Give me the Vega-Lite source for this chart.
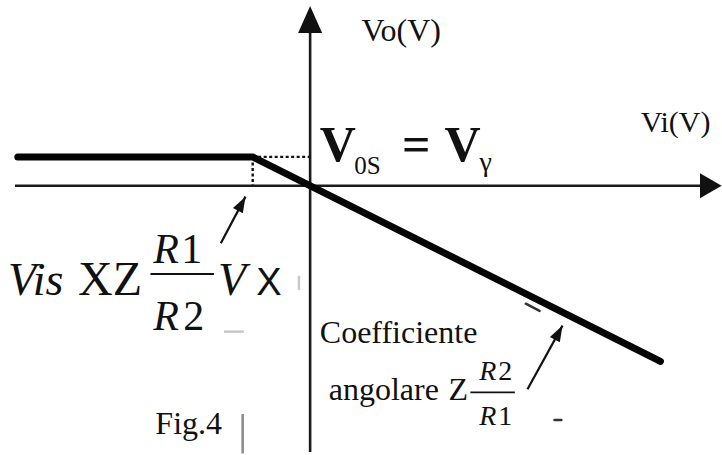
{
  "$schema": "https://vega.github.io/schema/vega-lite/v6.json",
  "width": 722,
  "height": 455,
  "padding": 0,
  "autosize": {"type": "fit", "contains": "padding"},
  "background": "white",
  "config": {"view": {"stroke": null}, "text": {"font": "Liberation Serif", "color": "#111"}},
  "datasets": {
    "axes": [
      {"x1": -10.28, "x2": 14.0, "y1": 0, "y2": 0},
      {"x1": 0, "x2": 0, "y1": 5.7, "y2": -9.25}
    ],
    "headUp": [{"x": 0, "y": 6.24}],
    "headRight": [{"x": 14.33, "y": 0}],
    "transfer": [
      {"vi": -10.18, "vo": 1.0},
      {"vi": -2.0, "vo": 1.0},
      {"vi": 12.2, "vo": -6.1}
    ],
    "guides": [
      {"x1": -2.0, "x2": 0, "y1": 1.0, "y2": 1.0},
      {"x1": -2.0, "x2": -2.0, "y1": 1.0, "y2": 0}
    ],
    "pointers": [
      {"x1": -3.11, "y1": -2.0, "x2": -2.25, "y2": -0.38},
      {"x1": 7.57, "y1": -7.07, "x2": 8.79, "y2": -4.86}
    ],
    "pointerTips": [
      {"x": -2.25, "y": -0.38},
      {"x": 8.79, "y": -4.86}
    ],
    "bigBars": [{"x1": -5.56, "x2": -3.35, "y1": -3.07, "y2": -3.07}],
    "smallBars": [{"x1": 5.58, "x2": 7.13, "y1": -7.18, "y2": -7.18}],
    "grayBar": [{"x1": -2.35, "x2": -2.35, "y1": -7.93, "y2": -9.3}],
    "darkSpecks": [
      {"x1": 7.51, "x2": 7.99, "y1": -4.1, "y2": -4.35},
      {"x1": 8.51, "x2": 8.75, "y1": -8.14, "y2": -8.14}
    ],
    "lightSpecks": [
      {"x1": -0.39, "x2": -0.39, "y1": -3.13, "y2": -3.62},
      {"x1": -3.0, "x2": -2.31, "y1": -5.07, "y2": -5.07}
    ],
    "plainText": [
      {"x": 1.79, "y": 5.03, "t": "Vo(V)"},
      {"x": 0.338, "y": -5.45, "t": "Coefficiente"},
      {"x": 0.648, "y": -7.45, "t": "angolare"},
      {"x": 4.82, "y": -7.45, "t": "Z"},
      {"x": -5.39, "y": -8.62, "t": "Fig.4"}
    ],
    "viText": [{"x": 11.51, "y": 1.86, "t": "Vi(V)"}],
    "boldText": [
      {"x": 0.338, "y": 0.859, "t": "V"},
      {"x": 3.2, "y": 0.859, "t": "="},
      {"x": 4.68, "y": 0.859, "t": "V"}
    ],
    "subText": [{"x": 1.54, "y": 0.41, "t": "0S"}],
    "gammaText": [{"x": 5.9, "y": 0.52, "t": "γ"}],
    "italicBig": [
      {"x": -10.52, "y": -3.79, "t": "Vis"},
      {"x": -3.21, "y": -3.79, "t": "V"}
    ],
    "romanBig": [{"x": -8.08, "y": -3.79, "t": "XZ"}],
    "sansX": [{"x": -1.88, "y": -3.79, "t": "X"}],
    "fracR": [
      {"x": -5.46, "y": -2.69, "t": "R"},
      {"x": -5.46, "y": -5.0, "t": "R"}
    ],
    "fracDigit": [
      {"x": -4.49, "y": -2.69, "t": "1"},
      {"x": -4.42, "y": -5.0, "t": "2"}
    ],
    "smallR": [
      {"x": 5.89, "y": -6.76, "t": "R"},
      {"x": 5.89, "y": -8.31, "t": "R"}
    ],
    "smallDigit": [
      {"x": 6.55, "y": -6.76, "t": "2"},
      {"x": 6.55, "y": -8.31, "t": "1"}
    ]
  },
  "layer": [
    {
      "data": {"name": "axes"},
      "mark": {"type": "rule", "color": "#1a1a1a", "strokeWidth": 2.6},
      "encoding": {
        "x": {"field": "x1", "type": "quantitative", "scale": {"domain": [-10.8, 14.1], "nice": false, "zero": false}, "axis": null},
        "x2": {"field": "x2"},
        "y": {"field": "y1", "type": "quantitative", "scale": {"domain": [-9.25, 6.45], "nice": false, "zero": false}, "axis": null},
        "y2": {"field": "y2"}
      }
    },
    {
      "data": {"name": "headUp"},
      "mark": {"type": "point", "shape": "M0,0L0.89,2L-0.89,2Z", "size": 729, "filled": true, "color": "#111", "opacity": 1},
      "encoding": {
        "x": {"field": "x", "type": "quantitative", "scale": {"domain": [-10.8, 14.1], "nice": false, "zero": false}, "axis": null},
        "y": {"field": "y", "type": "quantitative", "scale": {"domain": [-9.25, 6.45], "nice": false, "zero": false}, "axis": null}
      }
    },
    {
      "data": {"name": "headRight"},
      "mark": {"type": "point", "shape": "M0,0L-1.6,-0.93L-1.6,0.93Z", "size": 729, "filled": true, "color": "#111", "opacity": 1},
      "encoding": {
        "x": {"field": "x", "type": "quantitative", "scale": {"domain": [-10.8, 14.1], "nice": false, "zero": false}, "axis": null},
        "y": {"field": "y", "type": "quantitative", "scale": {"domain": [-9.25, 6.45], "nice": false, "zero": false}, "axis": null}
      }
    },
    {
      "data": {"name": "guides"},
      "mark": {"type": "rule", "color": "#111", "strokeWidth": 2.4, "strokeDash": [3, 2.5]},
      "encoding": {
        "x": {"field": "x1", "type": "quantitative", "scale": {"domain": [-10.8, 14.1], "nice": false, "zero": false}, "axis": null},
        "x2": {"field": "x2"},
        "y": {"field": "y1", "type": "quantitative", "scale": {"domain": [-9.25, 6.45], "nice": false, "zero": false}, "axis": null},
        "y2": {"field": "y2"}
      }
    },
    {
      "data": {"name": "transfer"},
      "mark": {"type": "line", "color": "#050505", "strokeWidth": 7, "strokeCap": "round", "strokeJoin": "miter"},
      "encoding": {
        "x": {"field": "vi", "type": "quantitative", "scale": {"domain": [-10.8, 14.1], "nice": false, "zero": false}, "axis": null},
        "y": {"field": "vo", "type": "quantitative", "scale": {"domain": [-9.25, 6.45], "nice": false, "zero": false}, "axis": null}
      }
    },
    {
      "data": {"name": "pointers"},
      "mark": {"type": "rule", "color": "#111", "strokeWidth": 2.2},
      "encoding": {
        "x": {"field": "x1", "type": "quantitative", "scale": {"domain": [-10.8, 14.1], "nice": false, "zero": false}, "axis": null},
        "x2": {"field": "x2"},
        "y": {"field": "y1", "type": "quantitative", "scale": {"domain": [-9.25, 6.45], "nice": false, "zero": false}, "axis": null},
        "y2": {"field": "y2"}
      }
    },
    {
      "data": {"name": "pointerTips"},
      "mark": {"type": "point", "shape": "M0,0L0.7,2L-0.7,2Z", "size": 256, "angle": 28.5, "filled": true, "color": "#111", "opacity": 1},
      "encoding": {
        "x": {"field": "x", "type": "quantitative", "scale": {"domain": [-10.8, 14.1], "nice": false, "zero": false}, "axis": null},
        "y": {"field": "y", "type": "quantitative", "scale": {"domain": [-9.25, 6.45], "nice": false, "zero": false}, "axis": null}
      }
    },
    {
      "data": {"name": "bigBars"},
      "mark": {"type": "rule", "color": "#111", "strokeWidth": 2},
      "encoding": {
        "x": {"field": "x1", "type": "quantitative", "scale": {"domain": [-10.8, 14.1], "nice": false, "zero": false}, "axis": null},
        "x2": {"field": "x2"},
        "y": {"field": "y1", "type": "quantitative", "scale": {"domain": [-9.25, 6.45], "nice": false, "zero": false}, "axis": null},
        "y2": {"field": "y2"}
      }
    },
    {
      "data": {"name": "smallBars"},
      "mark": {"type": "rule", "color": "#111", "strokeWidth": 1.6},
      "encoding": {
        "x": {"field": "x1", "type": "quantitative", "scale": {"domain": [-10.8, 14.1], "nice": false, "zero": false}, "axis": null},
        "x2": {"field": "x2"},
        "y": {"field": "y1", "type": "quantitative", "scale": {"domain": [-9.25, 6.45], "nice": false, "zero": false}, "axis": null},
        "y2": {"field": "y2"}
      }
    },
    {
      "data": {"name": "grayBar"},
      "mark": {"type": "rule", "color": "#8a8a8a", "strokeWidth": 2.5},
      "encoding": {
        "x": {"field": "x1", "type": "quantitative", "scale": {"domain": [-10.8, 14.1], "nice": false, "zero": false}, "axis": null},
        "x2": {"field": "x2"},
        "y": {"field": "y1", "type": "quantitative", "scale": {"domain": [-9.25, 6.45], "nice": false, "zero": false}, "axis": null},
        "y2": {"field": "y2"}
      }
    },
    {
      "data": {"name": "darkSpecks"},
      "mark": {"type": "rule", "color": "#333", "strokeWidth": 2.5, "strokeCap": "round"},
      "encoding": {
        "x": {"field": "x1", "type": "quantitative", "scale": {"domain": [-10.8, 14.1], "nice": false, "zero": false}, "axis": null},
        "x2": {"field": "x2"},
        "y": {"field": "y1", "type": "quantitative", "scale": {"domain": [-9.25, 6.45], "nice": false, "zero": false}, "axis": null},
        "y2": {"field": "y2"}
      }
    },
    {
      "data": {"name": "lightSpecks"},
      "mark": {"type": "rule", "color": "#c8c8c8", "strokeWidth": 2.5},
      "encoding": {
        "x": {"field": "x1", "type": "quantitative", "scale": {"domain": [-10.8, 14.1], "nice": false, "zero": false}, "axis": null},
        "x2": {"field": "x2"},
        "y": {"field": "y1", "type": "quantitative", "scale": {"domain": [-9.25, 6.45], "nice": false, "zero": false}, "axis": null},
        "y2": {"field": "y2"}
      }
    },
    {
      "data": {"name": "plainText"},
      "mark": {"type": "text", "fontSize": 32, "align": "left", "baseline": "alphabetic"},
      "encoding": {
        "x": {"field": "x", "type": "quantitative", "scale": {"domain": [-10.8, 14.1], "nice": false, "zero": false}, "axis": null},
        "y": {"field": "y", "type": "quantitative", "scale": {"domain": [-9.25, 6.45], "nice": false, "zero": false}, "axis": null},
        "text": {"field": "t"}
      }
    },
    {
      "data": {"name": "viText"},
      "mark": {"type": "text", "fontSize": 30, "align": "left", "baseline": "alphabetic"},
      "encoding": {
        "x": {"field": "x", "type": "quantitative", "scale": {"domain": [-10.8, 14.1], "nice": false, "zero": false}, "axis": null},
        "y": {"field": "y", "type": "quantitative", "scale": {"domain": [-9.25, 6.45], "nice": false, "zero": false}, "axis": null},
        "text": {"field": "t"}
      }
    },
    {
      "data": {"name": "boldText"},
      "mark": {"type": "text", "fontSize": 50, "fontWeight": "bold", "align": "left", "baseline": "alphabetic"},
      "encoding": {
        "x": {"field": "x", "type": "quantitative", "scale": {"domain": [-10.8, 14.1], "nice": false, "zero": false}, "axis": null},
        "y": {"field": "y", "type": "quantitative", "scale": {"domain": [-9.25, 6.45], "nice": false, "zero": false}, "axis": null},
        "text": {"field": "t"}
      }
    },
    {
      "data": {"name": "subText"},
      "mark": {"type": "text", "fontSize": 25, "align": "left", "baseline": "alphabetic"},
      "encoding": {
        "x": {"field": "x", "type": "quantitative", "scale": {"domain": [-10.8, 14.1], "nice": false, "zero": false}, "axis": null},
        "y": {"field": "y", "type": "quantitative", "scale": {"domain": [-9.25, 6.45], "nice": false, "zero": false}, "axis": null},
        "text": {"field": "t"}
      }
    },
    {
      "data": {"name": "gammaText"},
      "mark": {"type": "text", "fontSize": 28, "align": "left", "baseline": "alphabetic"},
      "encoding": {
        "x": {"field": "x", "type": "quantitative", "scale": {"domain": [-10.8, 14.1], "nice": false, "zero": false}, "axis": null},
        "y": {"field": "y", "type": "quantitative", "scale": {"domain": [-9.25, 6.45], "nice": false, "zero": false}, "axis": null},
        "text": {"field": "t"}
      }
    },
    {
      "data": {"name": "italicBig"},
      "mark": {"type": "text", "fontSize": 46, "fontStyle": "italic", "align": "left", "baseline": "alphabetic"},
      "encoding": {
        "x": {"field": "x", "type": "quantitative", "scale": {"domain": [-10.8, 14.1], "nice": false, "zero": false}, "axis": null},
        "y": {"field": "y", "type": "quantitative", "scale": {"domain": [-9.25, 6.45], "nice": false, "zero": false}, "axis": null},
        "text": {"field": "t"}
      }
    },
    {
      "data": {"name": "romanBig"},
      "mark": {"type": "text", "fontSize": 48, "align": "left", "baseline": "alphabetic"},
      "encoding": {
        "x": {"field": "x", "type": "quantitative", "scale": {"domain": [-10.8, 14.1], "nice": false, "zero": false}, "axis": null},
        "y": {"field": "y", "type": "quantitative", "scale": {"domain": [-9.25, 6.45], "nice": false, "zero": false}, "axis": null},
        "text": {"field": "t"}
      }
    },
    {
      "data": {"name": "sansX"},
      "mark": {"type": "text", "font": "Liberation Sans", "fontSize": 38, "align": "left", "baseline": "alphabetic"},
      "encoding": {
        "x": {"field": "x", "type": "quantitative", "scale": {"domain": [-10.8, 14.1], "nice": false, "zero": false}, "axis": null},
        "y": {"field": "y", "type": "quantitative", "scale": {"domain": [-9.25, 6.45], "nice": false, "zero": false}, "axis": null},
        "text": {"field": "t"}
      }
    },
    {
      "data": {"name": "fracR"},
      "mark": {"type": "text", "fontSize": 42, "fontStyle": "italic", "align": "left", "baseline": "alphabetic"},
      "encoding": {
        "x": {"field": "x", "type": "quantitative", "scale": {"domain": [-10.8, 14.1], "nice": false, "zero": false}, "axis": null},
        "y": {"field": "y", "type": "quantitative", "scale": {"domain": [-9.25, 6.45], "nice": false, "zero": false}, "axis": null},
        "text": {"field": "t"}
      }
    },
    {
      "data": {"name": "fracDigit"},
      "mark": {"type": "text", "fontSize": 42, "align": "left", "baseline": "alphabetic"},
      "encoding": {
        "x": {"field": "x", "type": "quantitative", "scale": {"domain": [-10.8, 14.1], "nice": false, "zero": false}, "axis": null},
        "y": {"field": "y", "type": "quantitative", "scale": {"domain": [-9.25, 6.45], "nice": false, "zero": false}, "axis": null},
        "text": {"field": "t"}
      }
    },
    {
      "data": {"name": "smallR"},
      "mark": {"type": "text", "fontSize": 28, "fontStyle": "italic", "align": "left", "baseline": "alphabetic"},
      "encoding": {
        "x": {"field": "x", "type": "quantitative", "scale": {"domain": [-10.8, 14.1], "nice": false, "zero": false}, "axis": null},
        "y": {"field": "y", "type": "quantitative", "scale": {"domain": [-9.25, 6.45], "nice": false, "zero": false}, "axis": null},
        "text": {"field": "t"}
      }
    },
    {
      "data": {"name": "smallDigit"},
      "mark": {"type": "text", "fontSize": 28, "align": "left", "baseline": "alphabetic"},
      "encoding": {
        "x": {"field": "x", "type": "quantitative", "scale": {"domain": [-10.8, 14.1], "nice": false, "zero": false}, "axis": null},
        "y": {"field": "y", "type": "quantitative", "scale": {"domain": [-9.25, 6.45], "nice": false, "zero": false}, "axis": null},
        "text": {"field": "t"}
      }
    }
  ]
}
